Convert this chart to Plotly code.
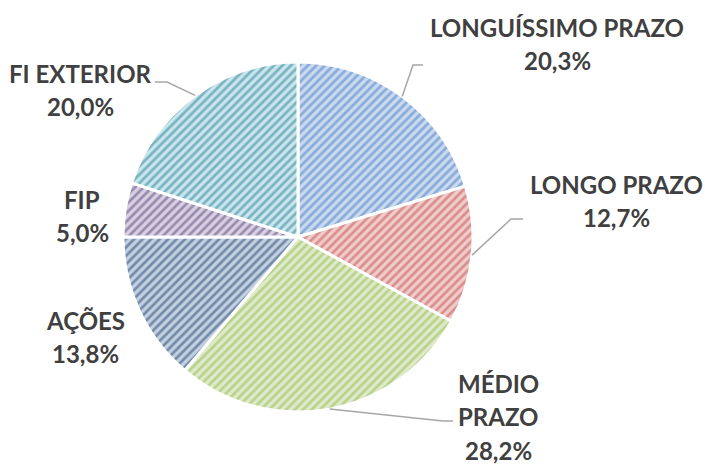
import math
import plotly.graph_objects as go

labels = ["LONGUÍSSIMO PRAZO", "LONGO PRAZO", "MÉDIO PRAZO", "AÇÕES", "FIP", "FI EXTERIOR"]
values = [20.3, 12.7, 28.2, 13.8, 5.0, 20.0]
label_lines = [["LONGUÍSSIMO PRAZO"], ["LONGO PRAZO"], ["MÉDIO", "PRAZO"], ["AÇÕES"], ["FIP"], ["FI EXTERIOR"]]

bg_colors = ["#c9daf1", "#f0cccb", "#deebc9", "#c3d1e3", "#d9d0e4", "#c8e6ed"]
fg_colors = ["#4a7cc0", "#c0504d", "#94b84e", "#24456e", "#5a4676", "#2c7d92"]

W, H = 705, 464
cx, cy, r = 298, 237, 175

# label placement in px: (center x, first line y)
label_pos = [(557, 27), (616, 184), (498, 383), (85, 320), (82, 199), (80, 73)]
line_gap = 33.5
# leader lines: elbow and end points (px), None = no leader
leaders = [((413, 65), (423, 65)), ((511, 219), (523, 219)), ((443, 421), (453, 421)),
           None, None, ((167, 82), (155, 82))]


def px(x, y):
    return x / W, 1 - y / H


fig = go.Figure()
fig.add_trace(go.Pie(
    labels=labels, values=values, sort=False, direction="clockwise", rotation=0,
    textinfo="none", hoverinfo="label+percent",
    domain=dict(x=[(cx - r) / W, (cx + r) / W], y=[1 - (cy + r) / H, 1 - (cy - r) / H]),
    marker=dict(colors=bg_colors, line=dict(color="white", width=3),
                pattern=dict(shape="/", size=6, solidity=0.45, fillmode="overlay",
                             fgcolor=fg_colors, bgcolor=bg_colors)),
    showlegend=False,
))

total = sum(values)
cum = 0
annotations = []
shapes = []
for i, v in enumerate(values):
    mid = (cum + v / 2) / total * 2 * math.pi
    cum += v
    lines = label_lines[i] + [f"{v:.1f}".replace(".", ",") + "%"]
    lx, ly = label_pos[i]
    for k, t in enumerate(lines):
        x, y = px(lx, ly + k * line_gap)
        annotations.append(dict(x=x, y=y, xref="paper", yref="paper", text=f"<b>{t}</b>",
                                showarrow=False, xanchor="center", yanchor="middle", borderpad=0,
                                font=dict(family="Lato", size=24, color="#404040")))
    if leaders[i]:
        sx, sy = cx + r * math.sin(mid), cy - r * math.cos(mid)
        (ex, ey), (fx, fy) = leaders[i]
        pts = [px(sx, sy), px(ex, ey), px(fx, fy)]
        path = "M " + " L ".join(f"{a:.4f},{b:.4f}" for a, b in pts)
        shapes.append(dict(type="path", path=path, xref="paper", yref="paper",
                           line=dict(color="#a6a6a6", width=1.5)))

fig.update_layout(width=W, height=H, margin=dict(l=0, r=0, t=0, b=0),
                  paper_bgcolor="white", plot_bgcolor="white",
                  annotations=annotations, shapes=shapes)
fig.write_html("out.html", config={"displayModeBar": False},
               post_script="document.body.style.margin='0px';")
